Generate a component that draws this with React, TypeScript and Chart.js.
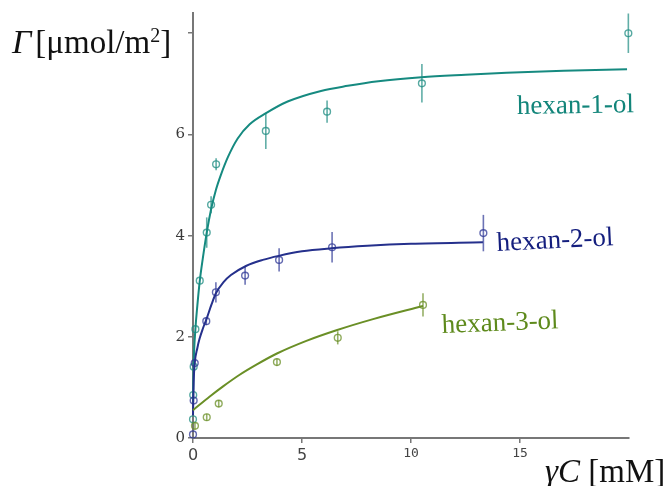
import React, { useEffect, useRef } from "react";
import { Chart, registerables } from "chart.js";

Chart.register(...registerables);

// ---- tick values ----
const xTickValues = [0, 5, 10, 15];
const yTickValues = [0, 2, 4, 6, 8];

// ---- hexan-1-ol ----
const hex1X = [0.0, 0.01, 0.03, 0.11, 0.31, 0.63, 0.83, 1.06, 3.34, 6.15, 10.5, 19.97];
const hex1Y = [0.37, 0.85, 1.41, 2.15, 3.11, 4.06, 4.61, 5.41, 6.07, 6.45, 7.01, 8.0];
const hex1Err = [0, 0, 0, 0, 0, 0.3, 0.17, 0.12, 0.36, 0.22, 0.38, 0.39];
const hex1CurveX = [0, 0.03, 0.11, 0.2, 0.31, 0.45, 0.63, 0.83, 1.05, 1.28, 1.6, 2.05, 2.6, 3.35, 4.34, 5.87, 7.1, 8.5, 10.48, 12.5, 14.38, 17, 19.91];
const hex1CurveY = [0.7, 1.45, 2.15, 2.62, 3.1, 3.55, 4.06, 4.52, 4.9, 5.2, 5.55, 5.92, 6.2, 6.42, 6.65, 6.86, 6.96, 7.05, 7.13, 7.18, 7.22, 7.26, 7.29];

// ---- hexan-2-ol ----
const hex2X = [0.0, 0.03, 0.08, 0.61, 1.05, 2.39, 3.95, 6.38, 13.32];
const hex2Y = [0.07, 0.74, 1.48, 2.31, 2.88, 3.21, 3.52, 3.77, 4.05];
const hex2Err = [0, 0, 0, 0.08, 0.2, 0.18, 0.23, 0.3, 0.36];
const hex2CurveX = [0, 0.03, 0.08, 0.2, 0.3, 0.45, 0.61, 0.85, 1.05, 1.4, 1.74, 2.43, 3.2, 3.93, 5, 6.36, 8, 10, 13.3];
const hex2CurveY = [0.45, 1.1, 1.48, 1.78, 1.96, 2.16, 2.34, 2.64, 2.86, 3.08, 3.22, 3.4, 3.52, 3.6, 3.69, 3.75, 3.8, 3.84, 3.87];

// ---- hexan-3-ol ----
const hex3X = [0.09, 0.63, 1.18, 3.85, 6.64, 10.55];
const hex3Y = [0.24, 0.41, 0.68, 1.5, 1.98, 2.63];
const hex3Err = [0.07, 0.07, 0.07, 0.07, 0.13, 0.23];
const hex3CurveX = [0, 0.77, 1.38, 2.14, 2.91, 3.85, 5.2, 6.58, 8.26, 10.55];
const hex3CurveY = [0.55, 0.82, 1.02, 1.25, 1.45, 1.67, 1.92, 2.13, 2.35, 2.61];

const TEAL = "#168a80";
const NAVY = "#25308c";
const OLIVE = "#6a8f26";

const toPts = (xs: number[], ys: number[]) => xs.map((x, i) => ({ x, y: ys[i] }));

const errorBarPlugin = {
  id: "errorBars",
  beforeDatasetsDraw(chart: any) {
    const { ctx, scales } = chart;
    const xs = scales.x;
    const ys = scales.y;
    chart.data.datasets.forEach((ds: any) => {
      if (!ds.errors) return;
      ctx.save();
      ctx.strokeStyle = ds.errColor;
      ctx.lineWidth = 1.6;
      ds.data.forEach((p: any, j: number) => {
        const e = ds.errors[j];
        if (!e) return;
        const px = xs.getPixelForValue(p.x);
        ctx.beginPath();
        ctx.moveTo(px, ys.getPixelForValue(p.y - e));
        ctx.lineTo(px, ys.getPixelForValue(p.y + e));
        ctx.stroke();
      });
      ctx.restore();
    });
  },
};

const textPlugin = {
  id: "texts",
  afterDraw(chart: any) {
    const ctx = chart.ctx;
    ctx.save();
    ctx.textBaseline = "alphabetic";
    ctx.textAlign = "left";
    // Y title: Γ [μmol/m²]
    ctx.fillStyle = "#111";
    let x = 12;
    ctx.font = "italic 34px 'Liberation Serif'";
    ctx.fillText("Γ", x, 53);
    x += ctx.measureText("Γ").width + 4;
    ctx.font = "33px 'Liberation Serif'";
    ctx.fillText("[μmol/m", x, 53);
    x += ctx.measureText("[μmol/m").width;
    ctx.font = "20px 'Liberation Serif'";
    ctx.fillText("2", x, 42);
    x += ctx.measureText("2").width;
    ctx.font = "33px 'Liberation Serif'";
    ctx.fillText("]", x, 53);

    // X title: γC [mM]
    x = 545;
    ctx.font = "italic 33px 'Liberation Serif'";
    ctx.fillText("γC", x, 482);
    x += ctx.measureText("γC").width;
    ctx.font = "33px 'Liberation Serif'";
    ctx.fillText(" [mM]", x, 482);

    // series labels
    const label = (t: string, lx: number, ly: number, col: string, rot: number) => {
      ctx.save();
      ctx.translate(lx, ly);
      ctx.rotate(rot);
      ctx.font = "27px 'Liberation Serif'";
      ctx.fillStyle = col;
      ctx.fillText(t, 0, 0);
      ctx.restore();
    };
    label("hexan-1-ol", 517, 114, "#12857a", -0.015);
    label("hexan-2-ol", 497, 251, "#141e7e", -0.05);
    label("hexan-3-ol", 442, 333, "#5e8a1c", -0.04);
    ctx.restore();
  },
};

export default function App() {
  const ref = useRef<HTMLCanvasElement | null>(null);
  useEffect(() => {
    if (!ref.current) return;
    const mkCurve = (xs: number[], ys: number[], color: string) => ({
      type: "line" as const,
      data: toPts(xs, ys),
      borderColor: color,
      borderWidth: 2,
      pointRadius: 0,
      showLine: true,
      fill: false,
      cubicInterpolationMode: "monotone" as const,
      clip: false as any,
    });
    const mkPts = (xs: number[], ys: number[], errs: number[], color: string, errColor: string) => ({
      type: "scatter" as const,
      data: toPts(xs, ys),
      borderColor: color,
      backgroundColor: "rgba(0,0,0,0)",
      borderWidth: 1.4,
      pointRadius: 3.4,
      pointStyle: "circle",
      showLine: false,
      errors: errs,
      errColor,
      clip: false as any,
    });
    const chart = new Chart(ref.current, {
      type: "scatter",
      data: {
        datasets: [
          mkCurve(hex3CurveX, hex3CurveY, OLIVE),
          mkPts(hex3X, hex3Y, hex3Err, "rgba(106,143,38,0.75)", "rgba(106,143,38,0.7)"),
          mkCurve(hex2CurveX, hex2CurveY, NAVY),
          mkPts(hex2X, hex2Y, hex2Err, "rgba(45,55,150,0.75)", "rgba(45,55,150,0.7)"),
          mkCurve(hex1CurveX, hex1CurveY, TEAL),
          mkPts(hex1X, hex1Y, hex1Err, "rgba(30,140,130,0.75)", "rgba(30,140,130,0.7)"),
        ] as any,
      },
      options: {
        responsive: false,
        animation: false,
        events: [],
        layout: { padding: { left: 0, right: 35, top: 13, bottom: 0 } },
        plugins: { legend: { display: false }, tooltip: { enabled: false } },
        scales: {
          x: {
            type: "linear",
            min: 0,
            max: 20,
            afterBuildTicks: (s: any) => {
              s.ticks = xTickValues.map((v) => ({ value: v }));
            },
            afterFit: (s: any) => {
              s.height = 48;
            },
            border: { display: true, color: "#777", width: 2 },
            grid: { display: true, drawOnChartArea: false, drawTicks: true, tickLength: 5, color: "#777", lineWidth: 1.5 },
            ticks: {
              color: "#444",
              padding: 3,
              maxRotation: 0,
              font: (c: any) =>
                c.tick && c.tick.value >= 10
                  ? { family: "'DejaVu Sans Mono'", size: 13 }
                  : { family: "'DejaVu Sans'", size: 16 },
            },
          },
          y: {
            type: "linear",
            min: 0,
            max: 8.4,
            afterBuildTicks: (s: any) => {
              s.ticks = yTickValues.map((v) => ({ value: v }));
            },
            afterFit: (s: any) => {
              s.width = 193;
            },
            border: { display: true, color: "#777", width: 2 },
            grid: { display: true, drawOnChartArea: false, drawTicks: true, tickLength: 5, color: "#777", lineWidth: 1.5 },
            ticks: {
              color: "#3a3a3a",
              padding: 3,
              font: { family: "'DejaVu Serif'", size: 15 },
              callback: (v: any) => (v === 8 ? "" : String(v)),
            },
          },
        },
      } as any,
      plugins: [errorBarPlugin, textPlugin],
    });
    return () => chart.destroy();
  }, []);
  return (
    <div style={{ position: "absolute", left: 0, top: 0, width: 664, height: 486, background: "#fff" }}>
      <canvas ref={ref} width={664} height={486} style={{ display: "block" }} />
    </div>
  );
}
